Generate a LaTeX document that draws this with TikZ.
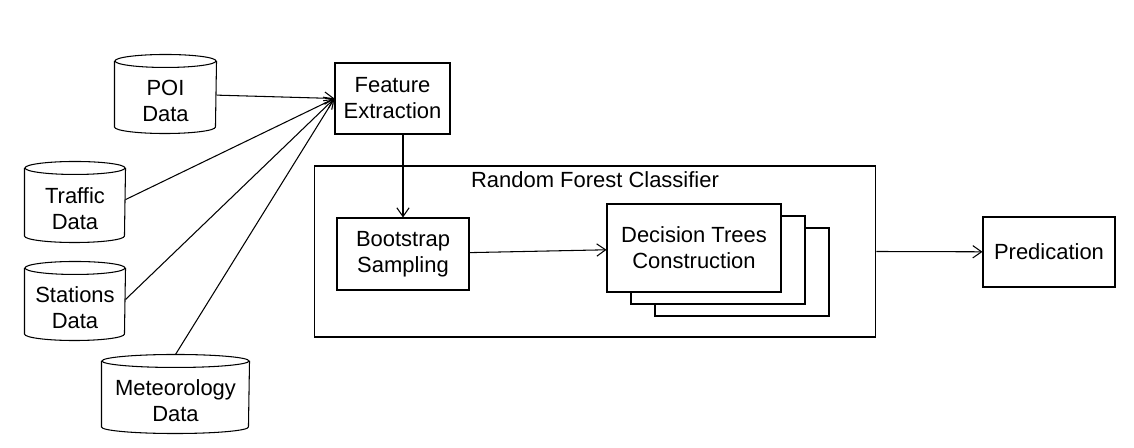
\documentclass[tikz,border=0pt]{standalone}
\usepackage{fontspec}
\setmainfont{Liberation Sans}
\usetikzlibrary{arrows.meta,positioning}

\begin{document}
\begin{tikzpicture}[x=0.02cm,y=-0.02cm,semithick,
    font=\fontsize{12.5}{14.8}\selectfont,
    box/.style={draw,align=center,inner sep=0pt},
    db/.style={align=center,inner sep=0pt,minimum height=1.3cm},
    arr/.style={-{Straight Barb[length=5pt,width=7pt]}}]
    \useasboundingbox (0,0) rectangle (1134,448);

    % data sources (body of the cylinder, the ends are drawn below)
    \node[db,minimum width=2.02cm] (poi) at (165.5,100.5) {POI\\Data};
    \node[db,minimum width=2cm,minimum height=1.34cm] (traffic) at (75,208.5) {Traffic\\Data};
    \node[db,minimum width=2cm] (stations) at (75,307.5) {Stations\\Data};
    \node[db,minimum width=2.94cm] (met) at (175.5,400.5) {Meteorology\\Data};

    \foreach \n/\r in {poi/1.01cm,traffic/1cm,stations/1cm,met/1.47cm}{
        \draw ([yshift=0.13cm]\n.north west) -- ([yshift=0.13cm]\n.south west)
            arc[start angle=180,end angle=360,x radius=\r,y radius=0.13cm]
            -- ([yshift=0.13cm]\n.north east);
        \draw ([yshift=0.13cm]\n.north) ellipse[x radius=\r,y radius=0.13cm];
    }

    \node[box,minimum width=2.3cm,minimum height=1.42cm] (fe) at (392.5,98.5) {Feature\\Extraction};

    % classifier
    \node[box,minimum width=11.24cm,minimum height=3.42cm] (rf) at (595,251.5) {};
    \node[below=3pt of rf.north,inner sep=0pt] (rftitle) {Random Forest Classifier};

    \node[box,minimum width=2.64cm,minimum height=1.44cm] (boot) at (403,254) {Bootstrap\\Sampling};

    \foreach \s in {2,1}
        \node[box,fill=white,minimum width=3.48cm,minimum height=1.76cm] (dt\s) at ({694+24*\s},{248+12*\s}) {};
    \node[box,fill=white,minimum width=3.48cm,minimum height=1.76cm] (dt) at (694,248) {Decision Trees\\Construction};

    \node[box,minimum width=2.64cm,minimum height=1.4cm] (pred) at (1049,252) {Predication};

    % connectors
    \draw[arr] (poi.6) -- (fe.west);
    \draw[arr] (traffic.10) -- (fe.west);
    \draw[arr] (stations.9) -- (fe.west);
    \draw[arr] ([yshift=0.26cm]met.north) -- (fe.west);
    \draw[arr] (boot.north |- fe.south) -- (boot.north);
    \draw[arr] (boot) -- (dt);
    \draw[arr] (rf.east) -- (pred);
\end{tikzpicture}
\end{document}
